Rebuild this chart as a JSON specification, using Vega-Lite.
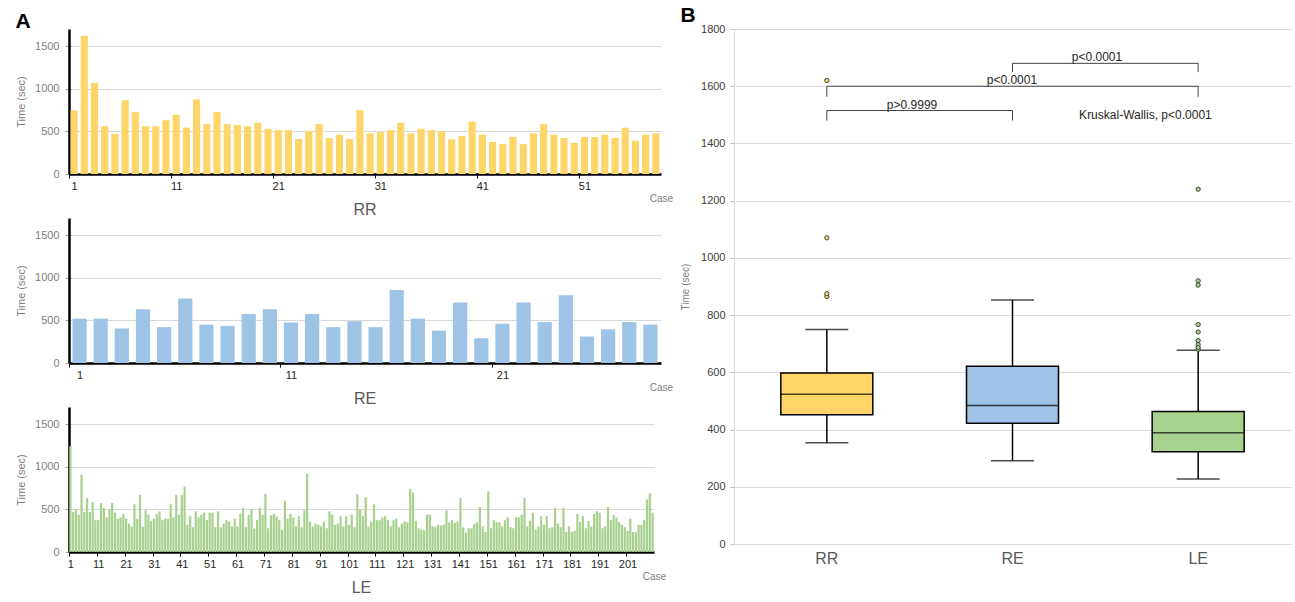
{
"$schema": "https://vega.github.io/schema/vega-lite/v6.json",
"padding": {"left": 15, "top": 5, "right": 5, "bottom": 0},
"background": "white",
"config": {"font": "Liberation Sans", "view": {"stroke": null}},
"datasets": {
"times": [
{"g":"RR","case":1,"t":745},{"g":"RR","case":2,"t":1620},{"g":"RR","case":3,"t":1070},{"g":"RR","case":4,"t":560},{"g":"RR","case":5,"t":470},{"g":"RR","case":6,"t":865},{"g":"RR","case":7,"t":725},{"g":"RR","case":8,"t":560},{"g":"RR","case":9,"t":560},{"g":"RR","case":10,"t":630},
{"g":"RR","case":11,"t":695},{"g":"RR","case":12,"t":545},{"g":"RR","case":13,"t":875},{"g":"RR","case":14,"t":585},{"g":"RR","case":15,"t":725},{"g":"RR","case":16,"t":585},{"g":"RR","case":17,"t":574},{"g":"RR","case":18,"t":560},{"g":"RR","case":19,"t":600},{"g":"RR","case":20,"t":530},
{"g":"RR","case":21,"t":515},{"g":"RR","case":22,"t":515},{"g":"RR","case":23,"t":410},{"g":"RR","case":24,"t":505},{"g":"RR","case":25,"t":585},{"g":"RR","case":26,"t":420},{"g":"RR","case":27,"t":460},{"g":"RR","case":28,"t":410},{"g":"RR","case":29,"t":750},{"g":"RR","case":30,"t":475},
{"g":"RR","case":31,"t":490},{"g":"RR","case":32,"t":515},{"g":"RR","case":33,"t":600},{"g":"RR","case":34,"t":477},{"g":"RR","case":35,"t":531},{"g":"RR","case":36,"t":515},{"g":"RR","case":37,"t":504},{"g":"RR","case":38,"t":407},{"g":"RR","case":39,"t":445},{"g":"RR","case":40,"t":615},
{"g":"RR","case":41,"t":461},{"g":"RR","case":42,"t":375},{"g":"RR","case":43,"t":350},{"g":"RR","case":44,"t":435},{"g":"RR","case":45,"t":350},{"g":"RR","case":46,"t":477},{"g":"RR","case":47,"t":585},{"g":"RR","case":48,"t":461},{"g":"RR","case":49,"t":422},{"g":"RR","case":50,"t":365},
{"g":"RR","case":51,"t":434},{"g":"RR","case":52,"t":434},{"g":"RR","case":53,"t":461},{"g":"RR","case":54,"t":422},{"g":"RR","case":55,"t":543},{"g":"RR","case":56,"t":390},{"g":"RR","case":57,"t":461},{"g":"RR","case":58,"t":477},
{"g":"RE","case":1,"t":520},{"g":"RE","case":2,"t":520},{"g":"RE","case":3,"t":405},{"g":"RE","case":4,"t":630},{"g":"RE","case":5,"t":420},{"g":"RE","case":6,"t":755},{"g":"RE","case":7,"t":450},{"g":"RE","case":8,"t":435},{"g":"RE","case":9,"t":575},{"g":"RE","case":10,"t":630},
{"g":"RE","case":11,"t":475},{"g":"RE","case":12,"t":575},{"g":"RE","case":13,"t":420},{"g":"RE","case":14,"t":490},{"g":"RE","case":15,"t":420},{"g":"RE","case":16,"t":855},{"g":"RE","case":17,"t":520},{"g":"RE","case":18,"t":380},{"g":"RE","case":19,"t":710},{"g":"RE","case":20,"t":290},
{"g":"RE","case":21,"t":460},{"g":"RE","case":22,"t":710},{"g":"RE","case":23,"t":480},{"g":"RE","case":24,"t":795},{"g":"RE","case":25,"t":310},{"g":"RE","case":26,"t":395},{"g":"RE","case":27,"t":480},{"g":"RE","case":28,"t":450},
{"g":"LE","case":1,"t":1240},{"g":"LE","case":2,"t":470},{"g":"LE","case":3,"t":500},{"g":"LE","case":4,"t":437},{"g":"LE","case":5,"t":905},{"g":"LE","case":6,"t":470},{"g":"LE","case":7,"t":630},{"g":"LE","case":8,"t":470},{"g":"LE","case":9,"t":585},{"g":"LE","case":10,"t":373},
{"g":"LE","case":11,"t":373},{"g":"LE","case":12,"t":575},{"g":"LE","case":13,"t":516},{"g":"LE","case":14,"t":405},{"g":"LE","case":15,"t":500},{"g":"LE","case":16,"t":575},{"g":"LE","case":17,"t":460},{"g":"LE","case":18,"t":390},{"g":"LE","case":19,"t":405},{"g":"LE","case":20,"t":445},
{"g":"LE","case":21,"t":390},{"g":"LE","case":22,"t":333},{"g":"LE","case":23,"t":300},{"g":"LE","case":24,"t":560},{"g":"LE","case":25,"t":390},{"g":"LE","case":26,"t":670},{"g":"LE","case":27,"t":295},{"g":"LE","case":28,"t":488},{"g":"LE","case":29,"t":437},{"g":"LE","case":30,"t":365},
{"g":"LE","case":31,"t":390},{"g":"LE","case":32,"t":445},{"g":"LE","case":33,"t":476},{"g":"LE","case":34,"t":373},{"g":"LE","case":35,"t":390},{"g":"LE","case":36,"t":390},{"g":"LE","case":37,"t":560},{"g":"LE","case":38,"t":405},{"g":"LE","case":39,"t":670},{"g":"LE","case":40,"t":437},
{"g":"LE","case":41,"t":670},{"g":"LE","case":42,"t":767},{"g":"LE","case":43,"t":318},{"g":"LE","case":44,"t":420},{"g":"LE","case":45,"t":290},{"g":"LE","case":46,"t":476},{"g":"LE","case":47,"t":405},{"g":"LE","case":48,"t":437},{"g":"LE","case":49,"t":460},{"g":"LE","case":50,"t":373},
{"g":"LE","case":51,"t":460},{"g":"LE","case":52,"t":460},{"g":"LE","case":53,"t":290},{"g":"LE","case":54,"t":476},{"g":"LE","case":55,"t":290},{"g":"LE","case":56,"t":330},{"g":"LE","case":57,"t":373},{"g":"LE","case":58,"t":357},{"g":"LE","case":59,"t":300},{"g":"LE","case":60,"t":390},
{"g":"LE","case":61,"t":300},{"g":"LE","case":62,"t":445},{"g":"LE","case":63,"t":516},{"g":"LE","case":64,"t":290},{"g":"LE","case":65,"t":437},{"g":"LE","case":66,"t":500},{"g":"LE","case":67,"t":274},{"g":"LE","case":68,"t":373},{"g":"LE","case":69,"t":516},{"g":"LE","case":70,"t":437},
{"g":"LE","case":71,"t":680},{"g":"LE","case":72,"t":278},{"g":"LE","case":73,"t":429},{"g":"LE","case":74,"t":445},{"g":"LE","case":75,"t":420},{"g":"LE","case":76,"t":373},{"g":"LE","case":77,"t":262},{"g":"LE","case":78,"t":600},{"g":"LE","case":79,"t":390},{"g":"LE","case":80,"t":445},
{"g":"LE","case":81,"t":405},{"g":"LE","case":82,"t":300},{"g":"LE","case":83,"t":420},{"g":"LE","case":84,"t":290},{"g":"LE","case":85,"t":488},{"g":"LE","case":86,"t":920},{"g":"LE","case":87,"t":357},{"g":"LE","case":88,"t":300},{"g":"LE","case":89,"t":333},{"g":"LE","case":90,"t":318},
{"g":"LE","case":91,"t":300},{"g":"LE","case":92,"t":357},{"g":"LE","case":93,"t":278},{"g":"LE","case":94,"t":476},{"g":"LE","case":95,"t":437},{"g":"LE","case":96,"t":318},{"g":"LE","case":97,"t":333},{"g":"LE","case":98,"t":420},{"g":"LE","case":99,"t":300},{"g":"LE","case":100,"t":420},
{"g":"LE","case":101,"t":318},{"g":"LE","case":102,"t":437},{"g":"LE","case":103,"t":290},{"g":"LE","case":104,"t":676},{"g":"LE","case":105,"t":500},{"g":"LE","case":106,"t":420},{"g":"LE","case":107,"t":643},{"g":"LE","case":108,"t":300},{"g":"LE","case":109,"t":357},{"g":"LE","case":110,"t":560},
{"g":"LE","case":111,"t":373},{"g":"LE","case":112,"t":373},{"g":"LE","case":113,"t":405},{"g":"LE","case":114,"t":420},{"g":"LE","case":115,"t":373},{"g":"LE","case":116,"t":300},{"g":"LE","case":117,"t":373},{"g":"LE","case":118,"t":390},{"g":"LE","case":119,"t":290},{"g":"LE","case":120,"t":333},
{"g":"LE","case":121,"t":357},{"g":"LE","case":122,"t":349},{"g":"LE","case":123,"t":741},{"g":"LE","case":124,"t":697},{"g":"LE","case":125,"t":365},{"g":"LE","case":126,"t":278},{"g":"LE","case":127,"t":262},{"g":"LE","case":128,"t":254},{"g":"LE","case":129,"t":437},{"g":"LE","case":130,"t":437},
{"g":"LE","case":131,"t":300},{"g":"LE","case":132,"t":295},{"g":"LE","case":133,"t":318},{"g":"LE","case":134,"t":310},{"g":"LE","case":135,"t":320},{"g":"LE","case":136,"t":488},{"g":"LE","case":137,"t":345},{"g":"LE","case":138,"t":373},{"g":"LE","case":139,"t":341},{"g":"LE","case":140,"t":357},
{"g":"LE","case":141,"t":631},{"g":"LE","case":142,"t":290},{"g":"LE","case":143,"t":228},{"g":"LE","case":144,"t":278},{"g":"LE","case":145,"t":278},{"g":"LE","case":146,"t":330},{"g":"LE","case":147,"t":349},{"g":"LE","case":148,"t":528},{"g":"LE","case":149,"t":300},{"g":"LE","case":150,"t":235},
{"g":"LE","case":151,"t":711},{"g":"LE","case":152,"t":278},{"g":"LE","case":153,"t":373},{"g":"LE","case":154,"t":349},{"g":"LE","case":155,"t":349},{"g":"LE","case":156,"t":300},{"g":"LE","case":157,"t":373},{"g":"LE","case":158,"t":405},{"g":"LE","case":159,"t":290},{"g":"LE","case":160,"t":278},
{"g":"LE","case":161,"t":405},{"g":"LE","case":162,"t":405},{"g":"LE","case":163,"t":437},{"g":"LE","case":164,"t":631},{"g":"LE","case":165,"t":300},{"g":"LE","case":166,"t":365},{"g":"LE","case":167,"t":460},{"g":"LE","case":168,"t":262},{"g":"LE","case":169,"t":300},{"g":"LE","case":170,"t":420},
{"g":"LE","case":171,"t":318},{"g":"LE","case":172,"t":420},{"g":"LE","case":173,"t":278},{"g":"LE","case":174,"t":290},{"g":"LE","case":175,"t":516},{"g":"LE","case":176,"t":333},{"g":"LE","case":177,"t":290},{"g":"LE","case":178,"t":516},{"g":"LE","case":179,"t":235},{"g":"LE","case":180,"t":300},
{"g":"LE","case":181,"t":235},{"g":"LE","case":182,"t":246},{"g":"LE","case":183,"t":445},{"g":"LE","case":184,"t":349},{"g":"LE","case":185,"t":420},{"g":"LE","case":186,"t":278},{"g":"LE","case":187,"t":365},{"g":"LE","case":188,"t":300},{"g":"LE","case":189,"t":445},{"g":"LE","case":190,"t":476},
{"g":"LE","case":191,"t":460},{"g":"LE","case":192,"t":278},{"g":"LE","case":193,"t":300},{"g":"LE","case":194,"t":528},{"g":"LE","case":195,"t":373},{"g":"LE","case":196,"t":437},{"g":"LE","case":197,"t":405},{"g":"LE","case":198,"t":349},{"g":"LE","case":199,"t":318},{"g":"LE","case":200,"t":290},
{"g":"LE","case":201,"t":246},{"g":"LE","case":202,"t":390},{"g":"LE","case":203,"t":235},{"g":"LE","case":204,"t":232},{"g":"LE","case":205,"t":318},{"g":"LE","case":206,"t":318},{"g":"LE","case":207,"t":373},{"g":"LE","case":208,"t":615},{"g":"LE","case":209,"t":687},{"g":"LE","case":210,"t":460}
],
"stats": [
{"g":"RR","lower":354,"q1":452,"median":523,"q3":598,"upper":750},
{"g":"RE","lower":291,"q1":422,"median":484,"q3":621,"upper":853},
{"g":"LE","lower":227,"q1":322,"median":389,"q3":463,"upper":677}
],
"brackets": [
{"x":0.5,"x2":0.5,"y":1480,"y2":1515},{"x":0.5,"x2":1.5,"y":1515,"y2":1515},{"x":1.5,"x2":1.5,"y":1515,"y2":1480},
{"x":0.5,"x2":0.5,"y":1563,"y2":1600},{"x":0.5,"x2":2.5,"y":1600,"y2":1600},{"x":2.5,"x2":2.5,"y":1600,"y2":1563},
{"x":1.5,"x2":1.5,"y":1649,"y2":1680},{"x":1.5,"x2":2.5,"y":1680,"y2":1680},{"x":2.5,"x2":2.5,"y":1680,"y2":1649}
],
"labels": [
{"x":0.959,"y":1533,"label":"p>0.9999"},
{"x":1.497,"y":1621,"label":"p<0.0001"},
{"x":1.955,"y":1703,"label":"p<0.0001"},
{"x":2.216,"y":1501,"label":"Kruskal-Wallis, p<0.0001"}
]
},
"spacing": 7,
"hconcat": [
{
"title": {"text": "A", "anchor": "start", "frame": "bounds", "fontSize": 21, "fontWeight": "bold", "color": "black", "offset": -3},
"spacing": -7,
"vconcat": [
{
"width": 592, "height": 145,
"data": {"name": "times"},
"transform": [{"filter": "datum.g === 'RR'"}],
"title": {"text": "RR", "orient": "bottom", "frame": "group", "fontSize": 16, "fontWeight": "normal", "color": "#595959", "offset": -1},
"mark": {"type": "bar", "color": "#FDD568"},
"encoding": {
"x": {"field": "case", "type": "ordinal", "scale": {"paddingInner": 0.3, "paddingOuter": 0.15},
"axis": {"values": [1,11,21,31,41,51], "tickOffset": -5.1, "labelOffset": 5.1, "labelAngle": 0, "domainColor": "black", "domainWidth": 2.5, "tickColor": "black", "tickSize": 4, "labelColor": "#262626", "labelFontSize": 11, "labelPadding": 2, "title": "Case", "titleAnchor": "end", "titleAlign": "center", "titleFontSize": 10, "titleFontWeight": "normal", "titleColor": "#7f7f7f", "titlePadding": 2}},
"y": {"field": "t", "type": "quantitative", "scale": {"domain": [0, 1700]},
"axis": {"values": [0,500,1000,1500], "format": "d", "title": "Time (sec)", "titleFontSize": 11, "titleFontWeight": "normal", "titleColor": "#7f7f7f", "titlePadding": 8, "labelColor": "#7f7f7f", "labelFontSize": 11, "labelPadding": 6, "tickSize": 4, "tickColor": "#a6a6a6", "domainColor": "black", "domainWidth": 2.5, "gridColor": "#D9D9D9"}}
}
},
{
"width": 592, "height": 145,
"data": {"name": "times"},
"transform": [{"filter": "datum.g === 'RE'"}],
"title": {"text": "RE", "orient": "bottom", "frame": "group", "fontSize": 16, "fontWeight": "normal", "color": "#595959", "offset": -1},
"mark": {"type": "bar", "color": "#9DC3E6"},
"encoding": {
"x": {"field": "case", "type": "ordinal", "scale": {"paddingInner": 0.33, "paddingOuter": 0.165},
"axis": {"values": [1,11,21], "tickOffset": -10.6, "labelOffset": 10.6, "labelAngle": 0, "domainColor": "black", "domainWidth": 2.5, "tickColor": "black", "tickSize": 4, "labelColor": "#262626", "labelFontSize": 11, "labelPadding": 2, "title": "Case", "titleAnchor": "end", "titleAlign": "center", "titleFontSize": 10, "titleFontWeight": "normal", "titleColor": "#7f7f7f", "titlePadding": 2}},
"y": {"field": "t", "type": "quantitative", "scale": {"domain": [0, 1700]},
"axis": {"values": [0,500,1000,1500], "format": "d", "title": "Time (sec)", "titleFontSize": 11, "titleFontWeight": "normal", "titleColor": "#7f7f7f", "titlePadding": 8, "labelColor": "#7f7f7f", "labelFontSize": 11, "labelPadding": 6, "tickSize": 4, "tickColor": "#a6a6a6", "domainColor": "black", "domainWidth": 2.5, "gridColor": "#D9D9D9"}}
}
},
{
"width": 585, "height": 145,
"data": {"name": "times"},
"transform": [{"filter": "datum.g === 'LE'"}],
"title": {"text": "LE", "orient": "bottom", "frame": "group", "fontSize": 16, "fontWeight": "normal", "color": "#595959", "offset": -1},
"mark": {"type": "bar", "color": "#A9D18E"},
"encoding": {
"x": {"field": "case", "type": "ordinal", "scale": {"paddingInner": 0.2, "paddingOuter": 0.1},
"axis": {"values": [1,11,21,31,41,51,61,71,81,91,101,111,121,131,141,151,161,171,181,191,201], "tickOffset": -1.4, "labelOffset": 1.4, "labelAngle": 0, "domainColor": "black", "domainWidth": 2.5, "tickColor": "black", "tickSize": 4, "labelColor": "#262626", "labelFontSize": 11, "labelPadding": 2, "title": "Case", "titleAnchor": "end", "titleAlign": "center", "titleFontSize": 10, "titleFontWeight": "normal", "titleColor": "#7f7f7f", "titlePadding": 2}},
"y": {"field": "t", "type": "quantitative", "scale": {"domain": [0, 1700]},
"axis": {"values": [0,500,1000,1500], "format": "d", "title": "Time (sec)", "titleFontSize": 11, "titleFontWeight": "normal", "titleColor": "#7f7f7f", "titlePadding": 8, "labelColor": "#7f7f7f", "labelFontSize": 11, "labelPadding": 6, "tickSize": 4, "tickColor": "#a6a6a6", "domainColor": "black", "domainWidth": 2.5, "gridColor": "#D9D9D9"}}
}
}
]
},
{
"width": 557, "height": 515,
"title": {"text": "B", "anchor": "start", "frame": "bounds", "fontSize": 21, "fontWeight": "bold", "color": "black", "offset": -3},
"layer": [
{
"encoding": {
"x": {"field": "g", "type": "nominal", "sort": ["RR","RE","LE"], "scale": {"domain": ["RR","RE","LE"], "paddingInner": 0, "paddingOuter": 0},
"axis": {"title": null, "labelAngle": 0, "domain": false, "ticks": false, "labelFontSize": 16, "labelColor": "#595959", "labelPadding": 6}}
},
"layer": [
{
"data": {"name": "stats"},
"mark": {"type": "rule", "color": "black", "strokeWidth": 1.5},
"encoding": {
"y": {"field": "lower", "type": "quantitative", "scale": {"domain": [0, 1800]},
"axis": {"values": [0,200,400,600,800,1000,1200,1400,1600,1800], "format": "d", "title": "Time (sec)", "titleFontSize": 10, "titleFontWeight": "normal", "titleColor": "#7f7f7f", "titlePadding": 10, "labelColor": "#404040", "labelFontSize": 11, "labelPadding": 5, "tickSize": 4, "tickColor": "#bfbfbf", "domainColor": "#D9D9D9", "gridColor": "#D9D9D9"}},
"y2": {"field": "upper"}
}
},
{
"data": {"name": "stats"},
"mark": {"type": "tick", "color": "black", "size": 43, "thickness": 1.5},
"encoding": {"y": {"field": "lower", "type": "quantitative"}}
},
{
"data": {"name": "stats"},
"mark": {"type": "tick", "color": "black", "size": 43, "thickness": 1.5},
"encoding": {"y": {"field": "upper", "type": "quantitative"}}
},
{
"data": {"name": "stats"},
"mark": {"type": "bar", "size": 92, "stroke": "black", "strokeWidth": 1.5},
"encoding": {
"y": {"field": "q1", "type": "quantitative"},
"y2": {"field": "q3"},
"color": {"field": "g", "type": "nominal", "scale": {"domain": ["RR","RE","LE"], "range": ["#FDD568","#9DC3E6","#A9D18E"]}, "legend": null}
}
},
{
"data": {"name": "stats"},
"mark": {"type": "tick", "color": "black", "size": 92, "thickness": 1.5},
"encoding": {"y": {"field": "median", "type": "quantitative"}}
},
{
"data": {"name": "times"},
"transform": [{"filter": "(datum.g === 'RR' && datum.t > 760) || (datum.g === 'LE' && datum.t > 678)"}],
"mark": {"type": "point", "filled": true, "size": 18, "stroke": "#404040", "strokeWidth": 1, "opacity": 1},
"encoding": {
"y": {"field": "t", "type": "quantitative"},
"color": {"field": "g", "type": "nominal", "legend": null}
}
}
]
},
{
"data": {"name": "brackets"},
"mark": {"type": "rule", "color": "#404040", "strokeWidth": 1},
"encoding": {
"x": {"field": "x", "type": "quantitative", "scale": {"domain": [0, 3]}, "axis": null},
"x2": {"field": "x2"},
"y": {"field": "y", "type": "quantitative"},
"y2": {"field": "y2"}
}
},
{
"data": {"name": "labels"},
"mark": {"type": "text", "fontSize": 12, "color": "#262626", "baseline": "middle"},
"encoding": {
"x": {"field": "x", "type": "quantitative", "scale": {"domain": [0, 3]}, "axis": null},
"y": {"field": "y", "type": "quantitative"},
"text": {"field": "label"}
}
}
],
"resolve": {"scale": {"x": "independent"}}
}
]
}
